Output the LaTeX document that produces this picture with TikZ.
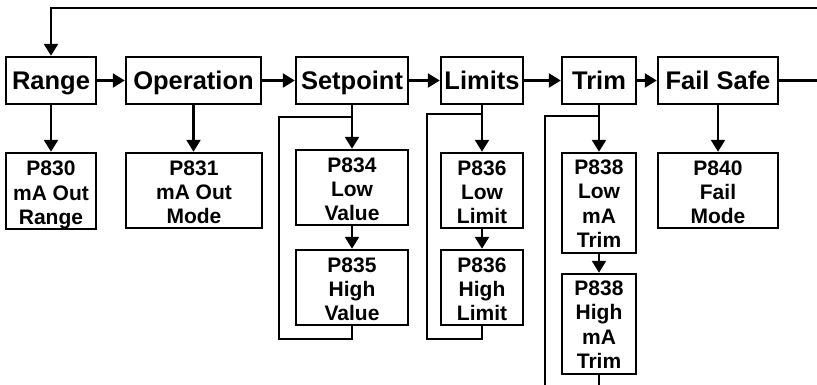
\documentclass[tikz,border=0pt]{standalone}
\usepackage{fontspec}
\setmainfont{Liberation Sans}
\usetikzlibrary{arrows.meta}
\begin{document}
\begin{tikzpicture}[x=1pt,y=-1pt,
  box/.style={draw, line width=2.5pt, inner sep=0pt, align=center, minimum height=47pt,
    text height=18pt, text depth=1pt,
    font=\fontsize{25.5}{28}\selectfont\bfseries},
  sub/.style={draw, line width=2.5pt, inner sep=0pt, align=center, text depth=0pt,
    font=\fontsize{21}{24.3}\selectfont\bfseries},
  subthree/.style={sub, text height=66.6pt},
  subfour/.style={sub, text height=89pt},
  conn/.style={line width=2.5pt},
  arr/.style={conn, -{Triangle[length=12pt,width=14pt]}}
]
\useasboundingbox (0,0) rectangle (817,384);
% main row
\node[box, minimum width=90pt] (range) at (51,80.5) {Range};
\node[box, minimum width=135pt] (op) at (193.5,80.5) {Operation};
\node[box, minimum width=112pt] (sp) at (352,80.5) {Setpoint};
\node[box, minimum width=82pt] (lim) at (482,80.5) {Limits};
\node[box, minimum width=74pt] (tr) at (599,80.5) {Trim};
\node[box, minimum width=120pt] (fs) at (718,80.5) {Fail Safe};
% sub boxes
\node[subthree, minimum width=90pt, minimum height=76pt] (p830) at (51,191) {P830\\mA Out\\Range};
\node[subthree, minimum width=136pt, minimum height=75pt] (p831) at (194,190.5) {P831\\mA Out\\Mode};
\node[subthree, minimum width=112pt, minimum height=75pt] (p834) at (352,187.5) {P834\\Low\\Value};
\node[subthree, minimum width=112pt, minimum height=75pt] (p835) at (352,287.5) {P835\\High\\Value};
\node[subthree, minimum width=82pt, minimum height=75pt] (p836l) at (482,190.5) {P836\\Low\\Limit};
\node[subthree, minimum width=82pt, minimum height=75pt] (p836h) at (482,287.5) {P836\\High\\Limit};
\node[subfour, minimum width=74pt, minimum height=100pt] (p838l) at (599,203) {P838\\Low\\mA\\Trim};
\node[subfour, minimum width=74pt, minimum height=100pt] (p838h) at (599,324) {P838\\High\\mA\\Trim};
\node[subthree, minimum width=120pt, minimum height=75pt] (p840) at (718,190.5) {P840\\Fail\\Mode};
% coordinates
\coordinate (topr) at (818,8);
\coordinate (fsr) at (818,80.5);
\coordinate (spt) at (279,117);
\coordinate (spb) at (279,339);
\coordinate (limt) at (427,114);
\coordinate (limb) at (427,339);
\coordinate (trt) at (545,116);
\coordinate (trb) at (545,386);
% main row arrows
\draw[arr] (range) -- (op);
\draw[arr] (op) -- (sp);
\draw[arr] (sp) -- (lim);
\draw[arr] (lim) -- (tr);
\draw[arr] (tr) -- (fs);
\draw[conn] (fs) -- (fsr);
\draw[arr] (topr) -- (range.north |- topr) -- (range.north);
% downward arrows
\draw[arr] (range.south) -- (p830.north);
\draw[arr] (op.south) -- (op.south |- p831.north);
\draw[arr] (sp.south) -- (p834.north);
\draw[arr] (p834.south) -- (p835.north);
\draw[arr] (lim.south) -- (p836l.north);
\draw[arr] (p836l.south) -- (p836h.north);
\draw[arr] (tr.south) -- (p838l.north);
\draw[arr] (p838l.south) -- (p838h.north);
\draw[arr] (fs.south) -- (p840.north);
% loops
\draw[conn] (p835.south) -- (p835.south |- spb) -- (spb) -- (spt) -- (sp.south |- spt);
\draw[conn] (p836h.south) -- (p836h.south |- limb) -- (limb) -- (limt) -- (lim.south |- limt);
\draw[conn] (tr.south |- trt) -- (trt) -- (trb);
\draw[conn] (p838h.south) -- (p838h.south |- trb);
\end{tikzpicture}
\end{document}
